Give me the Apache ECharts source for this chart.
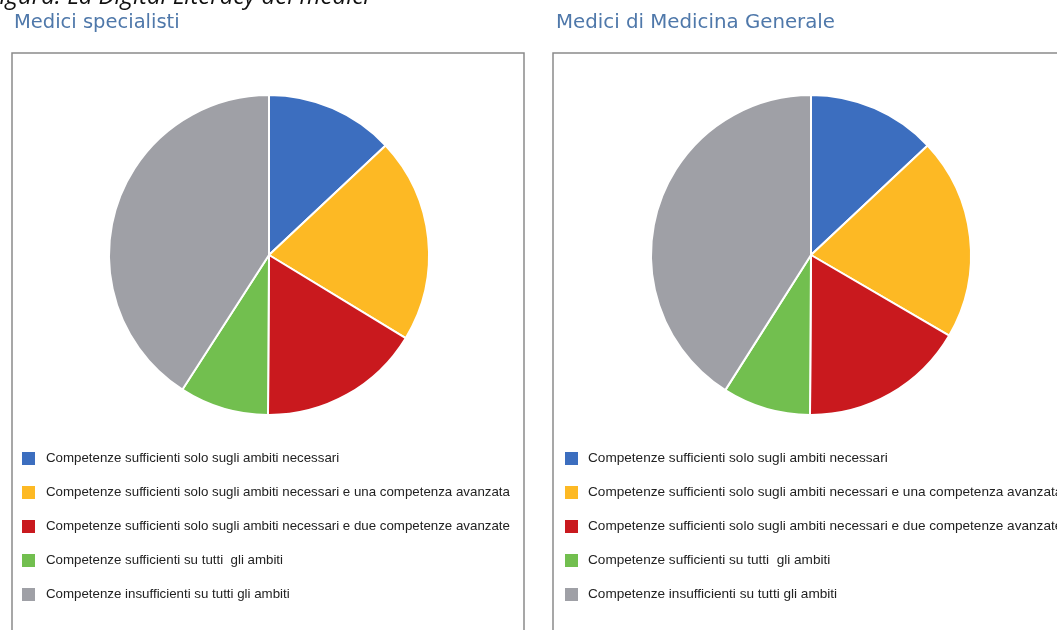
<!DOCTYPE html>
<html>
<head>
<meta charset="utf-8">
<script src="https://cdn.jsdelivr.net/npm/echarts@6/dist/echarts.min.js"></script>
<style>
html,body{margin:0;padding:0;background:#fff;}
#chart{width:1057px;height:630px;}
</style>
</head>
<body>
<div id="chart"></div>
<script>
var categories = [
  'Competenze sufficienti solo sugli ambiti necessari',
  'Competenze sufficienti solo sugli ambiti necessari e una competenza avanzata',
  'Competenze sufficienti solo sugli ambiti necessari e due competenze avanzate',
  'Competenze sufficienti su tutti  gli ambiti',
  'Competenze insufficienti su tutti gli ambiti'
];
var colors = ['#3c6ebf', '#fdb924', '#c9191e', '#72bf4f', '#9fa0a6'];
var specialistiValues = [13, 20.7, 16.4, 9, 40.9];
var mmgValues = [13, 20.4, 16.7, 8.9, 41];
var figureTitle = 'Figura: La Digital Literacy dei medici';
var panelTitles = ['Medici specialisti', 'Medici di Medicina Generale'];

function toData(vals) {
  return vals.map(function (v, i) {
    return { name: categories[i], value: v, itemStyle: { color: colors[i] } };
  });
}

var chart = echarts.init(document.getElementById('chart'));
var legendText = { fontFamily: 'Liberation Sans', fontSize: 13.3, color: '#222' };
chart.setOption({
  animation: false,
  backgroundColor: '#ffffff',
  graphic: [
    { type: 'text', left: -12, top: -15, style: { text: figureTitle, font: 'italic 24px "Open Sans"', fill: '#111' } },
    { type: 'text', left: 14, top: 13, style: { text: panelTitles[0], font: '19.5px "DejaVu Sans"', fill: '#4f78aa' } },
    { type: 'text', left: 556, top: 13, style: { text: panelTitles[1], font: '19.8px "DejaVu Sans"', fill: '#4f78aa' } },
    { type: 'rect', shape: { x: 12, y: 53, width: 512, height: 600 }, style: { fill: 'none', stroke: '#8a8a8a', lineWidth: 1.5 } },
    { type: 'rect', shape: { x: 553, y: 53, width: 560, height: 600 }, style: { fill: 'none', stroke: '#8a8a8a', lineWidth: 1.5 } }
  ],
  legend: [
    {
      data: categories, orient: 'vertical', left: 20, top: 450, itemGap: 17, padding: 0,
      itemWidth: 15, itemHeight: 15, icon: 'rect', selectedMode: false,
      textStyle: Object.assign({ padding: [0, 0, 0, 5] }, legendText)
    },
    {
      data: categories, orient: 'vertical', left: 563, top: 450, itemGap: 17, padding: 0,
      itemWidth: 15, itemHeight: 15, icon: 'rect', selectedMode: false,
      textStyle: Object.assign({ padding: [0, 0, 0, 4] }, legendText, { fontSize: 13.6 })
    }
  ],
  series: [
    {
      type: 'pie', center: [269, 255], radius: 160, startAngle: 90, clockwise: true,
      label: { show: false }, labelLine: { show: false }, silent: true,
      itemStyle: { borderColor: '#ffffff', borderWidth: 2 },
      data: toData(specialistiValues)
    },
    {
      type: 'pie', center: [811, 255], radius: 160, startAngle: 90, clockwise: true,
      label: { show: false }, labelLine: { show: false }, silent: true,
      itemStyle: { borderColor: '#ffffff', borderWidth: 2 },
      data: toData(mmgValues)
    }
  ]
});
</script>
</body>
</html>
